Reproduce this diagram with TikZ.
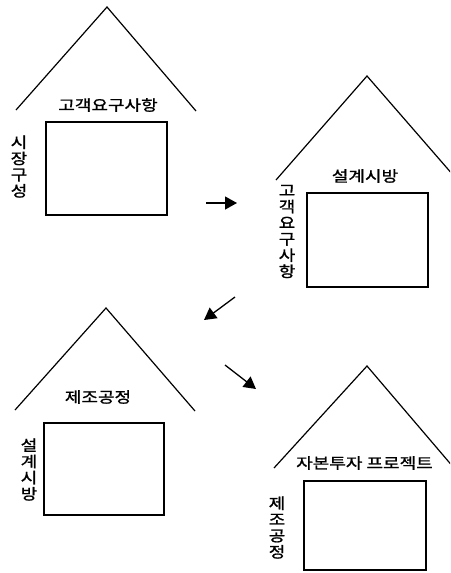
\documentclass[tikz,border=0pt]{standalone}
\usepackage{fontspec}
\newfontfamily\kr[FakeStretch=1.2,FakeBold=1.2]{Noto Sans CJK KR}
\usetikzlibrary{arrows.meta}
\tikzset{
  roof/.style={line width=1.2pt, line join=miter},
  room/.style={draw, line width=1.4pt, inner sep=0pt, minimum width=#1},
  title/.style={font=\kr\fontsize{15}{16}\selectfont, inner sep=0pt},
  side/.style={font=\kr\fontsize{15}{16.2}\selectfont, align=center, inner sep=0pt},
  flow/.style={line width=1.3pt, -{Triangle[length=12pt,width=13pt]}}
}
\begin{document}
\begin{tikzpicture}[x=1pt,y=-1pt]
\clip (0,0) rectangle (450,573);
\fill[white] (0,0) rectangle (450,573);
% house 1
\coordinate (r1l) at (16,110); \coordinate (r1a) at (107,7); \coordinate (r1r) at (196,111);
\draw[roof] (r1l) -- (r1a) -- (r1r);
\node[room=121pt, minimum height=93pt] (b1) at (106.5,168.5) {};
\node[title] (t1) at (108,105) {고객요구사항};
\node[side] (s1) at (19,166.5) {시\\장\\구\\성};
% house 2
\coordinate (r2l) at (276,180); \coordinate (r2a) at (367,76); \coordinate (r2r) at (460,183);
\draw[roof] (r2l) -- (r2a) -- (r2r);
\node[room=121pt, minimum height=94pt] (b2) at (367.5,240) {};
\node[title] (t2) at (365,176) {설계시방};
\node[side] (s2) at (287,231.5) {고\\객\\요\\구\\사\\항};
% house 3
\coordinate (r3l) at (15,410); \coordinate (r3a) at (106,308); \coordinate (r3r) at (195,411);
\draw[roof] (r3l) -- (r3a) -- (r3r);
\node[room=120pt, minimum height=92pt] (b3) at (104,469) {};
\node[title] (t3) at (98,397) {제조공정};
\node[side] (s3) at (29,469.5) {설\\계\\시\\방};
% house 4
\coordinate (r4l) at (274,468); \coordinate (r4a) at (367,366); \coordinate (r4r) at (460,475);
\draw[roof] (r4l) -- (r4a) -- (r4r);
\node[room=122pt, minimum height=89pt] (b4) at (365,525.5) {};
\node[title] (t4) at (364.5,463) {자본투자 프로젝트};
\node[side] (s4) at (277,527.5) {제\\조\\공\\정};
% arrows
\coordinate (a1s) at (206,203); \coordinate (a1e) at (237,203);
\coordinate (a2s) at (235,297); \coordinate (a2e) at (204,320);
\coordinate (a3s) at (225,365); \coordinate (a3e) at (256,389);
\draw[flow] (a1s) -- (a1e);
\draw[flow] (a2s) -- (a2e);
\draw[flow] (a3s) -- (a3e);
\end{tikzpicture}
\end{document}
